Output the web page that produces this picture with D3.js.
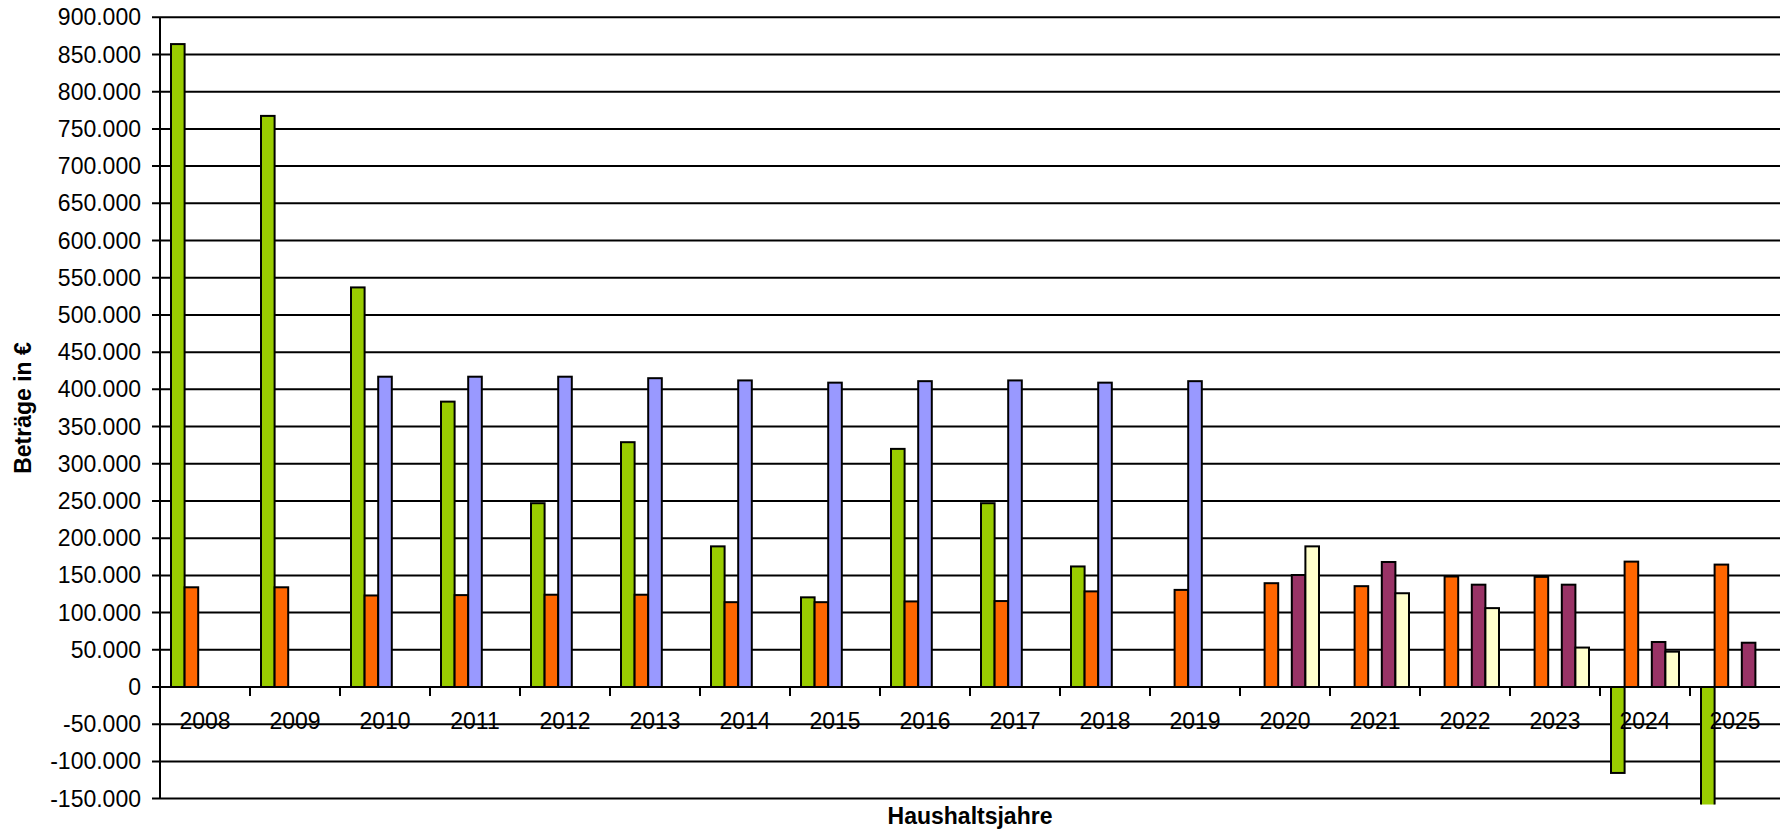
<!DOCTYPE html>
<html>
<head>
<meta charset="utf-8">
<script src="https://cdn.jsdelivr.net/npm/d3@7"></script>
<style>
  html, body { margin: 0; padding: 0; background: #fff; }
  svg { display: block; font-family: "Liberation Sans", Arial, sans-serif; }
</style>
</head>
<body>
<svg id="chart" width="1780" height="831"></svg>
<script>
// Haushaltsjahre (categories)
const years = ["2008", "2009", "2010", "2011", "2012", "2013", "2014", "2015", "2016",
               "2017", "2018", "2019", "2020", "2021", "2022", "2023", "2024", "2025"];

// Five series, amounts in €, null where a year has no bar
const greenValues  = [864000, 767500, 537000, 383500, 247000, 329000, 189000, 120500, 320000,
                      247000, 162000, null, null, null, null, null, -115500, -180000];
const orangeValues = [134000, 134000, 123000, 123500, 124000, 124000, 114000, 114000, 115000,
                      115500, 128500, 130500, 139500, 135500, 148500, 148000, 168500, 164500];
const blueValues   = [null, null, 417000, 417000, 417000, 415000, 412000, 409000, 411000,
                      412000, 409000, 411000, null, null, null, null, null, null];
const purpleValues = [null, null, null, null, null, null, null, null, null,
                      null, null, null, 150500, 168000, 137500, 137500, 60500, 59500];
const creamValues  = [null, null, null, null, null, null, null, null, null,
                      null, null, null, 189000, 126000, 106000, 53000, 47500, null];

const yTicks = [-150000, -100000, -50000, 0, 50000, 100000, 150000, 200000, 250000, 300000,
                350000, 400000, 450000, 500000, 550000, 600000, 650000, 700000, 750000,
                800000, 850000, 900000];

const series = [
  { key: "green",  values: greenValues,  color: "#99CC00" },
  { key: "orange", values: orangeValues, color: "#FF6600" },
  { key: "blue",   values: blueValues,   color: "#9999FF" },
  { key: "purple", values: purpleValues, color: "#993366" },
  { key: "cream",  values: creamValues,  color: "#FFFFCC" }
];

const svg = d3.select("#chart");
const W = 1780;
const plot = { left: 160, right: 1780, top: 17.3, zero: 687 };

const de = d3.formatLocale({ decimal: ",", thousands: ".", grouping: [3], currency: ["", " €"], minus: "-" });
const fmt = de.format(",.0f");

const y = d3.scaleLinear()
  .domain([0, 900000])
  .range([plot.zero, plot.top]);

const x0 = d3.scaleBand().domain(years).range([plot.left, plot.right]).padding(0);
const x1 = d3.scaleBand().domain(series.map(s => s.key)).range([11, 79]).padding(0);

const bottomY = y(-150000);

// horizontal gridlines with small ticks left of the axis
const grid = svg.append("g");
grid.selectAll("line")
  .data(yTicks)
  .join("line")
  .attr("x1", plot.left - 8)
  .attr("x2", W)
  .attr("y1", d => y(d))
  .attr("y2", d => y(d))
  .attr("stroke", "#000")
  .attr("stroke-width", 2);

// y tick labels
svg.append("g").selectAll("text")
  .data(yTicks)
  .join("text")
  .attr("x", plot.left - 19)
  .attr("y", d => y(d))
  .attr("dy", "0.35em")
  .attr("text-anchor", "end")
  .attr("font-size", 23)
  .attr("fill", "#000")
  .text(d => fmt(d));

// clip bars to the plot area
svg.append("defs").append("clipPath").attr("id", "plotClip")
  .append("rect")
  .attr("x", plot.left)
  .attr("y", 0)
  .attr("width", W - plot.left)
  .attr("height", bottomY + 6);

// bars
const barData = [];
series.forEach(s => {
  s.values.forEach((v, i) => {
    if (v !== null) barData.push({ year: years[i], key: s.key, value: v, color: s.color });
  });
});

svg.append("g").attr("clip-path", "url(#plotClip)")
  .selectAll("rect")
  .data(barData)
  .join("rect")
  .attr("x", d => x0(d.year) + x1(d.key))
  .attr("width", x1.bandwidth())
  .attr("y", d => Math.min(y(d.value), y(0)))
  .attr("height", d => Math.abs(y(d.value) - y(0)))
  .attr("fill", d => d.color)
  .attr("stroke", "#000")
  .attr("stroke-width", 2);

// category axis at zero with ticks between years
const xAxis = svg.append("g");
xAxis.append("line")
  .attr("x1", plot.left).attr("x2", W)
  .attr("y1", y(0)).attr("y2", y(0))
  .attr("stroke", "#000").attr("stroke-width", 2);
xAxis.selectAll("line.tick")
  .data(years)
  .join("line")
  .attr("class", "tick")
  .attr("x1", d => x0(d))
  .attr("x2", d => x0(d))
  .attr("y1", y(0))
  .attr("y2", y(0) + 9)
  .attr("stroke", "#000")
  .attr("stroke-width", 2);
xAxis.selectAll("text")
  .data(years)
  .join("text")
  .attr("x", d => x0(d) + x0.bandwidth() / 2)
  .attr("y", y(0) + 42)
  .attr("text-anchor", "middle")
  .attr("font-size", 23)
  .attr("fill", "#000")
  .text(d => d);

// value axis line
svg.append("line")
  .attr("x1", plot.left).attr("x2", plot.left)
  .attr("y1", plot.top).attr("y2", bottomY)
  .attr("stroke", "#000").attr("stroke-width", 2);

// axis titles
svg.append("text")
  .attr("x", (plot.left + W) / 2)
  .attr("y", 824)
  .attr("text-anchor", "middle")
  .attr("font-size", 23)
  .attr("font-weight", "bold")
  .attr("fill", "#000")
  .text("Haushaltsjahre");

svg.append("text")
  .attr("transform", "translate(31," + 408 + ") rotate(-90)")
  .attr("text-anchor", "middle")
  .attr("font-size", 23)
  .attr("font-weight", "bold")
  .attr("fill", "#000")
  .text("Beträge in €");
</script>
</body>
</html>
